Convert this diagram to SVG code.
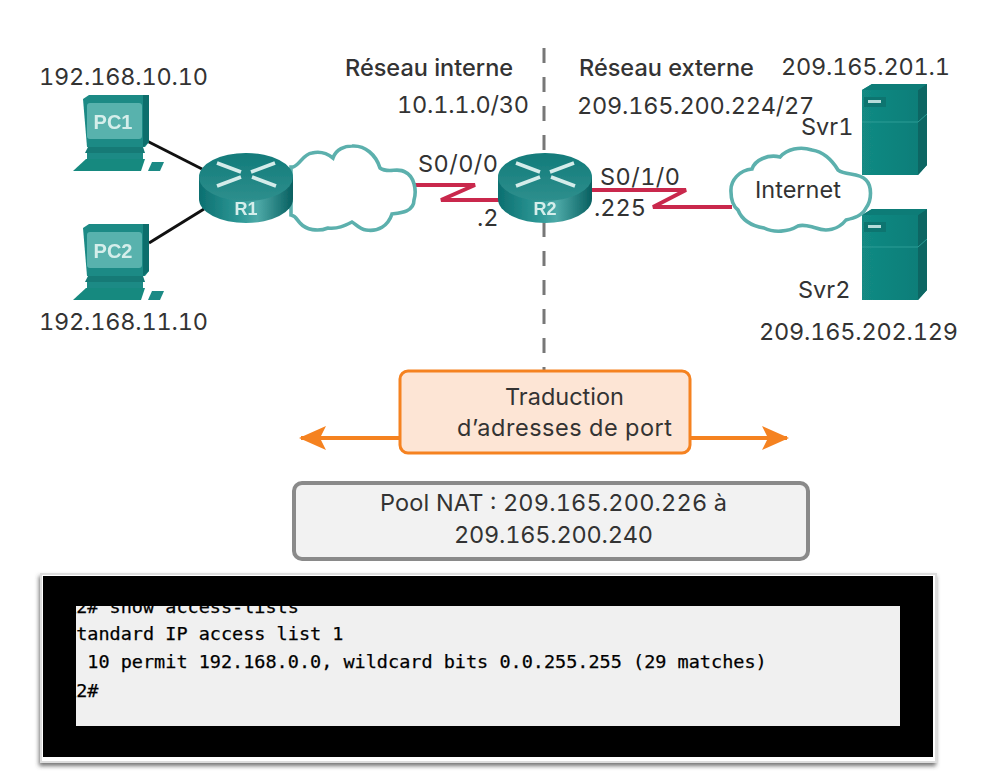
<svg xmlns="http://www.w3.org/2000/svg" width="995" height="780" viewBox="0 0 995 780">
<style>
text{font-family:"Inter","Liberation Sans",sans-serif;font-size:23.5px;fill:#333;font-variant-numeric:tabular-nums;font-feature-settings:"tnum"}
.h{font-weight:500}
.n{letter-spacing:-.2px}
.w{letter-spacing:.45px}
.ic{font-family:"Liberation Sans",Arial,sans-serif;font-weight:700;font-size:20px;fill:#d5eeeb;text-anchor:middle;letter-spacing:0}
.t{font-family:"DejaVu Sans Mono",monospace;font-size:18.5px;fill:#000;stroke:#000;stroke-width:.25}
.serial{fill:none;stroke:#c9284c;stroke-width:3.8;stroke-linejoin:miter}
.cloud{fill:#fff;stroke:#5bb0ad;stroke-width:3.6}
.eth{stroke:#111;stroke-width:3;fill:none}
.arrow{stroke:#f58220;stroke-width:4;fill:none}
.ra{stroke:#d4ecea;stroke-width:3.6;fill:none}
</style>
<defs>
<filter id="soft" x="-5%" y="-5%" width="110%" height="110%"><feGaussianBlur stdDeviation="0.6"/></filter>
<filter id="sh" x="-3%" y="-5%" width="106%" height="112%"><feDropShadow dx="-1" dy="3" stdDeviation="2" flood-color="#444" flood-opacity="0.75"/></filter>
<linearGradient id="rb" x1="0" x2="1" y1="0" y2="0"><stop offset="0" stop-color="#0c6f70"/><stop offset=".45" stop-color="#2f9a98"/><stop offset=".62" stop-color="#4eaaa8"/><stop offset="1" stop-color="#075f60"/></linearGradient>
<linearGradient id="rt" x1="0" x2="0" y1="0" y2="1"><stop offset="0" stop-color="#127b7a"/><stop offset="1" stop-color="#2e8f8d"/></linearGradient>
<linearGradient id="sv" x1="0" x2="1" y1="0" y2="0"><stop offset="0" stop-color="#128a83"/><stop offset="1" stop-color="#0c7c77"/></linearGradient>
<marker id="ah" viewBox="0 0 30 26" refX="28" refY="13" markerWidth="30" markerHeight="26" markerUnits="userSpaceOnUse" orient="auto-start-reverse"><path d="M30 13 L3 1 L9 13 L3 25Z" fill="#f58220"/></marker>
<g id="pc">
<path d="M0 4 L6 0 H66 V47 L62 52 H4 Z" fill="#1a8a85"/>
<path d="M60 0 H66 V47 L60 52Z" fill="#0d6e6c"/>
<rect x="4" y="8" width="55" height="36" rx="3" fill="#58b2ad"/>
<path d="M5 52 H60 L62 58 H2Z" fill="#127a76"/>
<path d="M4 58 H60 V65 H4Z" fill="#1a8a85"/>
<path d="M-10 76 L3 64 H62 L58 76Z" fill="#17897f"/>
<path d="M65 76 L69 67 H81 L77 76Z" fill="#1a8a85"/>
</g>
<g id="rtr">
<path d="M-47 0 V22 A47 24 0 0 0 47 22 V0Z" fill="url(#rb)"/>
<ellipse cx="0" cy="0" rx="47" ry="24" fill="url(#rt)"/>
<path class="ra" d="M-29-14 L-5-5M-29 9 L-5 0M29-14 L5-5M30 9 L6 0"/>
</g>
<g id="srv">
<path d="M0 6 L10 0 H65 V81 L56 91 H0Z" fill="url(#sv)"/>
<path d="M56 6 L65 0 V81 L56 91Z" fill="#0a6663"/>
<path d="M0 6 L10 0 H65 L56 6Z" fill="#117b77"/>
<path d="M0 38 H56 L65 30" fill="none" stroke="#2f9c96" stroke-width="1"/>
<rect x="2" y="13" width="22" height="10" fill="#0f7470"/>
<rect x="6" y="16" width="13" height="3" fill="#b5dcd9"/>
</g>
</defs>

<g id="connectors">
<path class="eth" d="M147 141 L202 169"/>
<path class="eth" d="M149 243 L204 209"/>
<path class="serial" d="M415 185 H475 L441 200 H500"/>
<path class="serial" d="M590 190 H686 L653 207 H732"/>
<path d="M544 48 V370" stroke="#777" stroke-width="3" stroke-dasharray="15 14" fill="none"/>
</g>

<g id="svr1" filter="url(#soft)"><use href="#srv" x="862" y="84"/></g>
<g id="svr2" filter="url(#soft)"><use href="#srv" x="862" y="209"/></g>

<g id="cloud1"><path class="cloud" filter="url(#soft)" d="M293 167 C300 165 303 154 312 153 C320 151 328 154 333 158 C336 149 345 146 352 146 C365 145 376 155 380 168 C388 174 398 167 405 172 C414 176 417 190 414 200 C414 212 400 213 392 214 C388 226 378 232 366 230 C359 229 356 224 352 222 C344 226 338 229 328 228 C318 232 306 230 300 223 C297 220 296 216 291 215 L291 167Z"/></g>
<g id="cloud2"><path class="cloud" filter="url(#soft)" d="M731 192 C730 180 740 170 752 169 C755 160 768 154 780 157 C787 149 800 146 812 150 C824 152 832 160 838 170 C846 176 858 172 866 180 C872 186 872 200 866 208 C862 216 854 218 846 220 C838 230 826 232 816 228 C808 226 804 224 798 226 C788 232 774 233 764 228 C752 226 742 220 738 210 C733 206 731 200 731 192Z"/></g>

<g id="pc1" filter="url(#soft)"><use href="#pc" x="83" y="95"/><text class="ic" x="113" y="129">PC1</text></g>
<g id="pc2" filter="url(#soft)"><use href="#pc" x="83" y="224"/><text class="ic" x="113" y="258">PC2</text></g>
<g id="r1" filter="url(#soft)"><use href="#rtr" x="246" y="177"/><text class="ic" x="246" y="215" style="font-size:18px">R1</text></g>
<g id="r2" filter="url(#soft)"><use href="#rtr" x="545" y="177"/><text class="ic" x="545" y="215" style="font-size:18px">R2</text></g>

<g id="labels">
<text class="n" x="39" y="85">192.168.10.10</text>
<text class="n" x="39" y="330">192.168.11.10</text>
<text class="h" x="345" y="76">Réseau interne</text>
<text class="n" x="397" y="113">10.1.1.0/30</text>
<text class="h" x="579" y="76">Réseau externe</text>
<text class="n" x="577" y="114">209.165.200.224/27</text>
<text class="n" x="781" y="75">209.165.201.1</text>
<text x="801" y="135">Svr1</text>
<text x="798" y="298">Svr2</text>
<text class="n" x="759" y="340">209.165.202.129</text>
<text class="w" x="418" y="172">S0/0/0</text>
<text x="477" y="226">.2</text>
<text class="w" x="600" y="185">S0/1/0</text>
<text x="594" y="216">.225</text>
<text x="755" y="198">Internet</text>
</g>

<g id="nat">
<path class="arrow" marker-start="url(#ah)" marker-end="url(#ah)" d="M301 438 H787"/>
<rect x="400" y="371" width="290" height="82" rx="8" fill="#fde5d5" stroke="#f58220" stroke-width="3"/>
<text x="505" y="405">Traduction</text>
<text x="457" y="436" textLength="215">d’adresses de port</text>
</g>

<g id="pool">
<rect x="294" y="483" width="514" height="76" rx="8" fill="#f2f2f2" stroke="#8a8a8a" stroke-width="4"/>
<text x="380" y="511" textLength="347">Pool NAT : 209.165.200.226 à</text>
<text class="n" x="454" y="543">209.165.200.240</text>
</g>

<g id="terminal">
<rect x="41" y="574" width="895" height="188" fill="#fff" stroke="#ddd" stroke-width="2" filter="url(#sh)"/>
<rect x="76" y="606" width="824" height="120" fill="#f0f0f0"/>
<text class="t" x="65" y="613">R2# show access-lists</text>
<text class="t" x="65" y="640">Standard IP access list 1</text>
<text class="t" x="65" y="668" xml:space="preserve">  10 permit 192.168.0.0, wildcard bits 0.0.255.255 (29 matches)</text>
<text class="t" x="65" y="697">R2#</text>
<path fill="#000" fill-rule="evenodd" d="M43 576 H933 V757 H43Z M76 606 V726 H900 V606Z"/>
</g>
</svg>
